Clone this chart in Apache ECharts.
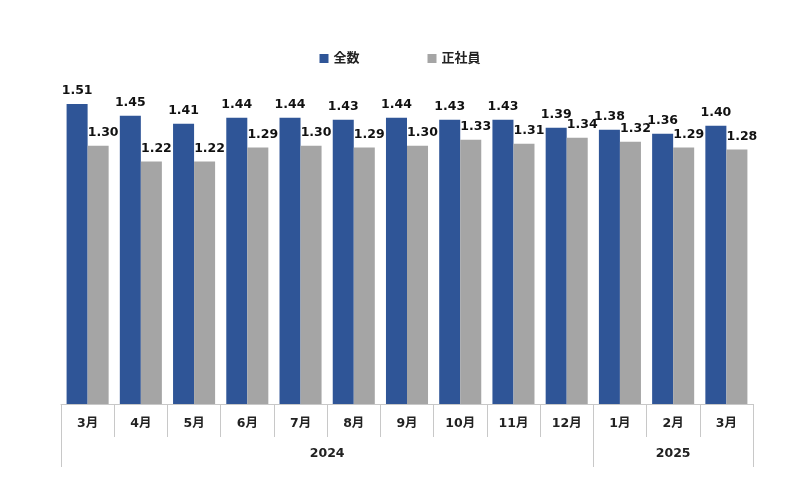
<!DOCTYPE html>
<html><head><meta charset="utf-8">
<script src="https://cdn.jsdelivr.net/npm/echarts@6/dist/echarts.min.js"></script>
<style>html,body{margin:0;padding:0;background:#fff}#c{width:800px;height:493px}</style>
</head><body><div id="c"></div>
<script>
var months = ['3月','4月','5月','6月','7月','8月','9月','10月','11月','12月','1月','2月','3月'];
var years = ['2024','2025'];
var seriesNames = ['全数','正社員'];
var totalVals = [1.51,1.45,1.41,1.44,1.44,1.43,1.44,1.43,1.43,1.39,1.38,1.36,1.40];
var regularVals = [1.30,1.22,1.22,1.29,1.30,1.29,1.30,1.33,1.31,1.34,1.32,1.29,1.28];

// half-step positions for year axis (27 points across 13 categories)
var yearAxisData = [];
for (var k = 0; k <= 26; k++) yearAxisData.push('');
yearAxisData[10] = years[0];
yearAxisData[23] = years[1];

var FONT = '"DejaVu Sans", "Noto Sans CJK JP", sans-serif';
var chart = echarts.init(document.getElementById('c'), null, {renderer:'canvas'});
chart.setOption({
  animation:false,
  legend:{
    top:47, left:'center', itemWidth:9, itemHeight:9, itemGap:68, icon:'rect',
    textStyle:{fontFamily:FONT, fontWeight:'bold', fontSize:13, color:'#222'},
    data:seriesNames
  },
  grid:{left:61, right:47, top:86, bottom:89},
  xAxis:[{
    type:'category', data:months, position:'bottom',
    axisLine:{lineStyle:{color:'#c8c8c8'}},
    axisTick:{show:true, length:33, interval:0, lineStyle:{color:'#c8c8c8'}},
    axisLabel:{interval:0, margin:13, fontFamily:FONT, fontWeight:'bold', fontSize:12.5, color:'#222'}
  },{
    type:'category', data:yearAxisData, position:'bottom', boundaryGap:false,
    axisLine:{show:false},
    axisTick:{show:true, length:63, lineStyle:{color:'#c8c8c8'},
      interval:function(i){return i===0||i===20||i===26;}},
    axisLabel:{margin:43, fontFamily:FONT, fontWeight:'bold', fontSize:12.5, color:'#222',
      interval:function(i){return i===10||i===23;}}
  }],
  yAxis:{type:'value', min:0, max:1.6, show:false, splitLine:{show:false}},
  series:[{
    name:seriesNames[0], type:'bar', data:totalVals, xAxisIndex:0,
    barGap:0, barCategoryGap:'21%', itemStyle:{color:'#2F5597'},
    label:{show:true, position:'top', distance:7, fontFamily:FONT, fontWeight:'bold', fontSize:12.5, color:'#111',
      formatter:function(p){return p.value.toFixed(2);}}
  },{
    name:seriesNames[1], type:'bar', data:regularVals, xAxisIndex:0,
    barGap:0, barCategoryGap:'21%', itemStyle:{color:'#A5A5A5'},
    label:{show:true, position:'top', distance:7, offset:[5,0], fontFamily:FONT, fontWeight:'bold', fontSize:12.5, color:'#111',
      formatter:function(p){return p.value.toFixed(2);}}
  }]
});
</script></body></html>
